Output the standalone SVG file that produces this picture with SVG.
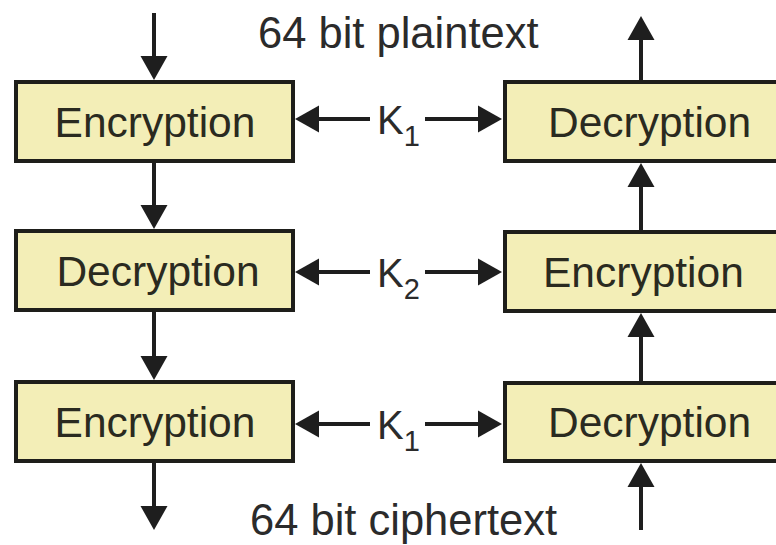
<svg xmlns="http://www.w3.org/2000/svg" width="776" height="545" viewBox="0 0 776 545">
  <style>
    .box rect { fill: #f3eeb7; stroke: #1e1e1a; stroke-width: 4; }
    .box text { font-family: "Liberation Sans", Arial, sans-serif; font-size: 42.5px; fill: #2a2a20; }
    .lbl { font-family: "Liberation Sans", Arial, sans-serif; font-size: 43.5px; fill: #2b2b2b; }
    .key { font-family: "Liberation Sans", Arial, sans-serif; font-size: 40px; fill: #2b2b2b; }
    .key .sub { font-size: 29px; }
    #connectors line { stroke: #1e1e1e; stroke-width: 4; marker-end: url(#head); }
  </style>
  <defs>
    <marker id="head" markerUnits="userSpaceOnUse" markerWidth="24" markerHeight="27" refX="0" refY="13.5" orient="auto" overflow="visible">
      <path d="M0,0 L24,13.5 L0,27 Z" fill="#1e1e1e"/>
    </marker>
  </defs>
  <rect width="776" height="545" fill="#ffffff"/>

  <!-- left column: encrypt with K1, decrypt with K2, encrypt with K1 -->
  <g id="enc1" class="box">
    <rect x="16" y="82" width="277" height="79"/>
    <text x="155" y="137" text-anchor="middle">Encryption</text>
  </g>
  <g id="dec2" class="box">
    <rect x="16" y="231" width="277" height="79"/>
    <text x="158" y="286" text-anchor="middle">Decryption</text>
  </g>
  <g id="enc3" class="box">
    <rect x="16" y="382" width="277" height="79"/>
    <text x="155" y="437" text-anchor="middle">Encryption</text>
  </g>

  <!-- right column: decrypt with K1, encrypt with K2, decrypt with K1 -->
  <g id="dec1" class="box">
    <rect x="505" y="82" width="300" height="79"/>
    <text x="548" y="137">Decryption</text>
  </g>
  <g id="enc2" class="box">
    <rect x="505" y="232" width="300" height="79"/>
    <text x="543" y="287">Encryption</text>
  </g>
  <g id="dec3" class="box">
    <rect x="505" y="383" width="300" height="78"/>
    <text x="548" y="437">Decryption</text>
  </g>

  <!-- flow labels -->
  <g id="plaintext"><text class="lbl" x="258" y="48">64 bit plaintext</text></g>
  <g id="ciphertext"><text class="lbl" x="250" y="535">64 bit ciphertext</text></g>

  <!-- key labels -->
  <g id="key1a"><text class="key" x="377" y="134">K<tspan class="sub" dy="12">1</tspan></text></g>
  <g id="key2"><text class="key" x="377" y="287">K<tspan class="sub" dy="12">2</tspan></text></g>
  <g id="key1b"><text class="key" x="377" y="439">K<tspan class="sub" dy="12">1</tspan></text></g>

  <g id="connectors">
    <!-- downward chain -->
    <line x1="154" y1="13" x2="154" y2="56"/>
    <line x1="154" y1="163" x2="154" y2="205"/>
    <line x1="154" y1="312" x2="154" y2="356"/>
    <line x1="154" y1="463" x2="154" y2="506"/>
    <!-- upward chain -->
    <line x1="641" y1="80" x2="641" y2="40"/>
    <line x1="641" y1="231" x2="641" y2="187"/>
    <line x1="641" y1="382" x2="641" y2="337"/>
    <line x1="641" y1="530" x2="641" y2="487"/>
    <!-- key feeds -->
    <line x1="370" y1="119" x2="319" y2="119"/>
    <line x1="425" y1="119" x2="478" y2="119"/>
    <line x1="370" y1="272" x2="319" y2="272"/>
    <line x1="425" y1="272" x2="478" y2="272"/>
    <line x1="370" y1="424" x2="319" y2="424"/>
    <line x1="425" y1="424" x2="478" y2="424"/>
  </g>
</svg>
